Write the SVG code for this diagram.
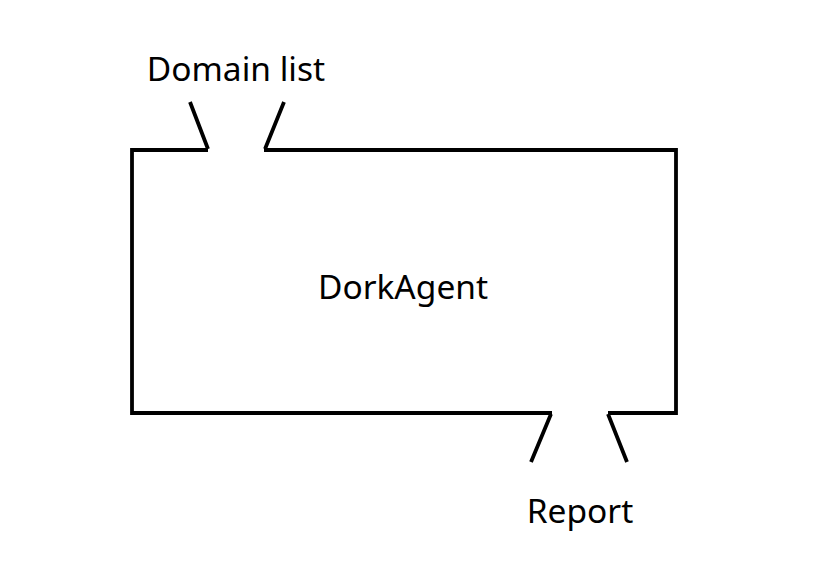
<svg xmlns="http://www.w3.org/2000/svg" width="815" height="577" viewBox="0 0 815 577">
<style>
.ln{fill:none;stroke:#000;stroke-width:3.8;stroke-linecap:butt;stroke-linejoin:miter}
.t{font-family:"Noto Sans","Open Sans",sans-serif;font-size:33.5px;fill:#000}
</style>
<rect width="815" height="577" fill="#fff"/>
<g id="dorkagent">
<path class="ln" d="M208,150 H132 V413 H552 M608,413 H676 V150 H264"/>
<text class="t" x="403" y="299" text-anchor="middle">DorkAgent</text>
</g>
<g id="connectors">
<path class="ln" d="M190,102 L208,149 M284,102 L265,149"/>
<path class="ln" d="M551,414 L531,462 M608,414 L627,462"/>
</g>
<g id="domain-list">
<text class="t" x="236" y="81" text-anchor="middle">Domain list</text>
</g>
<g id="report">
<text class="t" x="580" y="523" text-anchor="middle">Report</text>
</g>
</svg>
